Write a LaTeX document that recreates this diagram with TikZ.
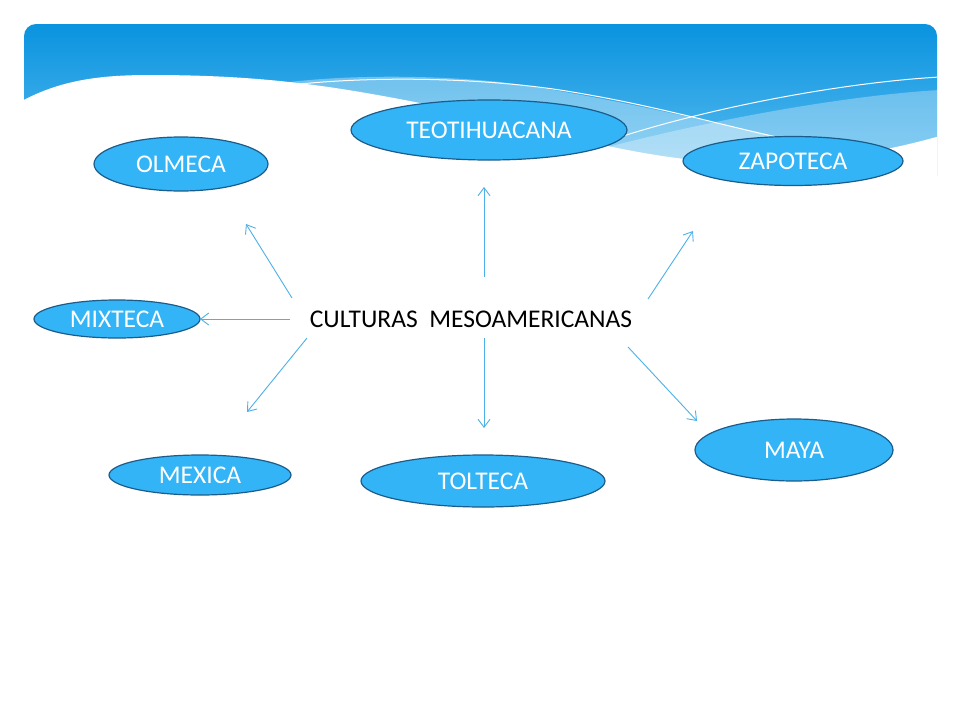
\documentclass[tikz,border=0pt]{standalone}
\usepackage{fontspec}
\setmainfont{Carlito}
\usetikzlibrary{shapes.geometric,arrows.meta}
\definecolor{hdtop}{HTML}{0A93DF}
\definecolor{hdbot}{HTML}{5BBDF0}
\definecolor{ellfill}{HTML}{33B4F6}
\definecolor{elldraw}{HTML}{1B5C8A}
\definecolor{arr}{HTML}{4DB0E6}
\tikzset{
  culture/.style={ellipse, draw=elldraw, line width=1.2pt, fill=ellfill, inner sep=0pt,
    text=white, font=\fontsize{25.5}{27}\selectfont},
  link/.style={draw=arr, line width=0.9pt, -{Straight Barb[length=8pt,width=12pt]}}
}
\begin{document}
\begin{tikzpicture}[x=1pt,y=-1pt]
\useasboundingbox (0,0) rectangle (960,720);
\fill[white] (0,0) rectangle (960,720);
% header
\begin{scope}
\clip[rounded corners=12pt] (24,24) rectangle (937,260);
\shade[top color=hdtop, bottom color=hdbot] (24,24) rectangle (937,175);
\fill[white, opacity=0.35] (290,82) .. controls (340,76) and (420,74) .. (500,82)
  .. controls (600,95) and (700,120) .. (830,148) -- (830,200) -- (290,200) -- cycle;
\fill[white, opacity=0.3] (560,160) .. controls (700,120) and (850,95) .. (940,90)
  -- (940,200) -- (560,200) -- cycle;
\fill[white] (20,102) .. controls (60,80) and (100,75) .. (150,75)
  .. controls (260,75) and (330,85) .. (430,105)
  .. controls (550,130) and (650,165) .. (760,163)
  .. controls (830,162) and (890,150) .. (940,136) -- (940,260) -- (20,260) -- cycle;
\draw[white, line width=1pt] (300,84) .. controls (380,76) and (480,78) .. (560,90)
  .. controls (650,104) and (720,125) .. (790,140);
\draw[white, line width=1pt] (620,137) .. controls (720,105) and (850,82) .. (940,77);
\end{scope}
% nodes
\node[culture, minimum width=276pt, minimum height=60pt] (teo) at (489,130) {TEOTIHUACANA};
\node[culture, minimum width=174pt, minimum height=54pt] (olm) at (181,164) {OLMECA};
\node[culture, minimum width=220pt, minimum height=49pt] (zap) at (793,161) {ZAPOTECA};
\node[culture, minimum width=166pt, minimum height=38pt] (mix) at (117,319) {MIXTECA};
\node[culture, minimum width=182pt, minimum height=40pt] (mex) at (200,475) {MEXICA};
\node[culture, minimum width=244pt, minimum height=52pt] (tol) at (483,481) {TOLTECA};
\node[culture, minimum width=198pt, minimum height=62pt] (may) at (794,450) {MAYA};
\node[font=\fontsize{25.5}{27}\selectfont, text=black, inner sep=0pt] (ctr) at (471,319) {CULTURAS\ \ MESOAMERICANAS};
% arrow ends
\coordinate (s1) at (292,298); \coordinate (e1) at (246,224);
\coordinate (s2) at (484,277); \coordinate (e2) at (484,187);
\coordinate (s3) at (648,299); \coordinate (e3) at (693,231);
\coordinate (s4) at (290,319); \coordinate (e4) at (200,319);
\coordinate (s5) at (307,338); \coordinate (e5) at (247,412);
\coordinate (s6) at (484,338); \coordinate (e6) at (484,428);
\coordinate (s7) at (628,347); \coordinate (e7) at (697,421);
\draw[link] (s1) -- (e1);
\draw[link] (s2) -- (e2);
\draw[link] (s3) -- (e3);
\draw[link] (s4) -- (e4);
\draw[link] (s5) -- (e5);
\draw[link] (s6) -- (e6);
\draw[link] (s7) -- (e7);
\end{tikzpicture}
\end{document}
